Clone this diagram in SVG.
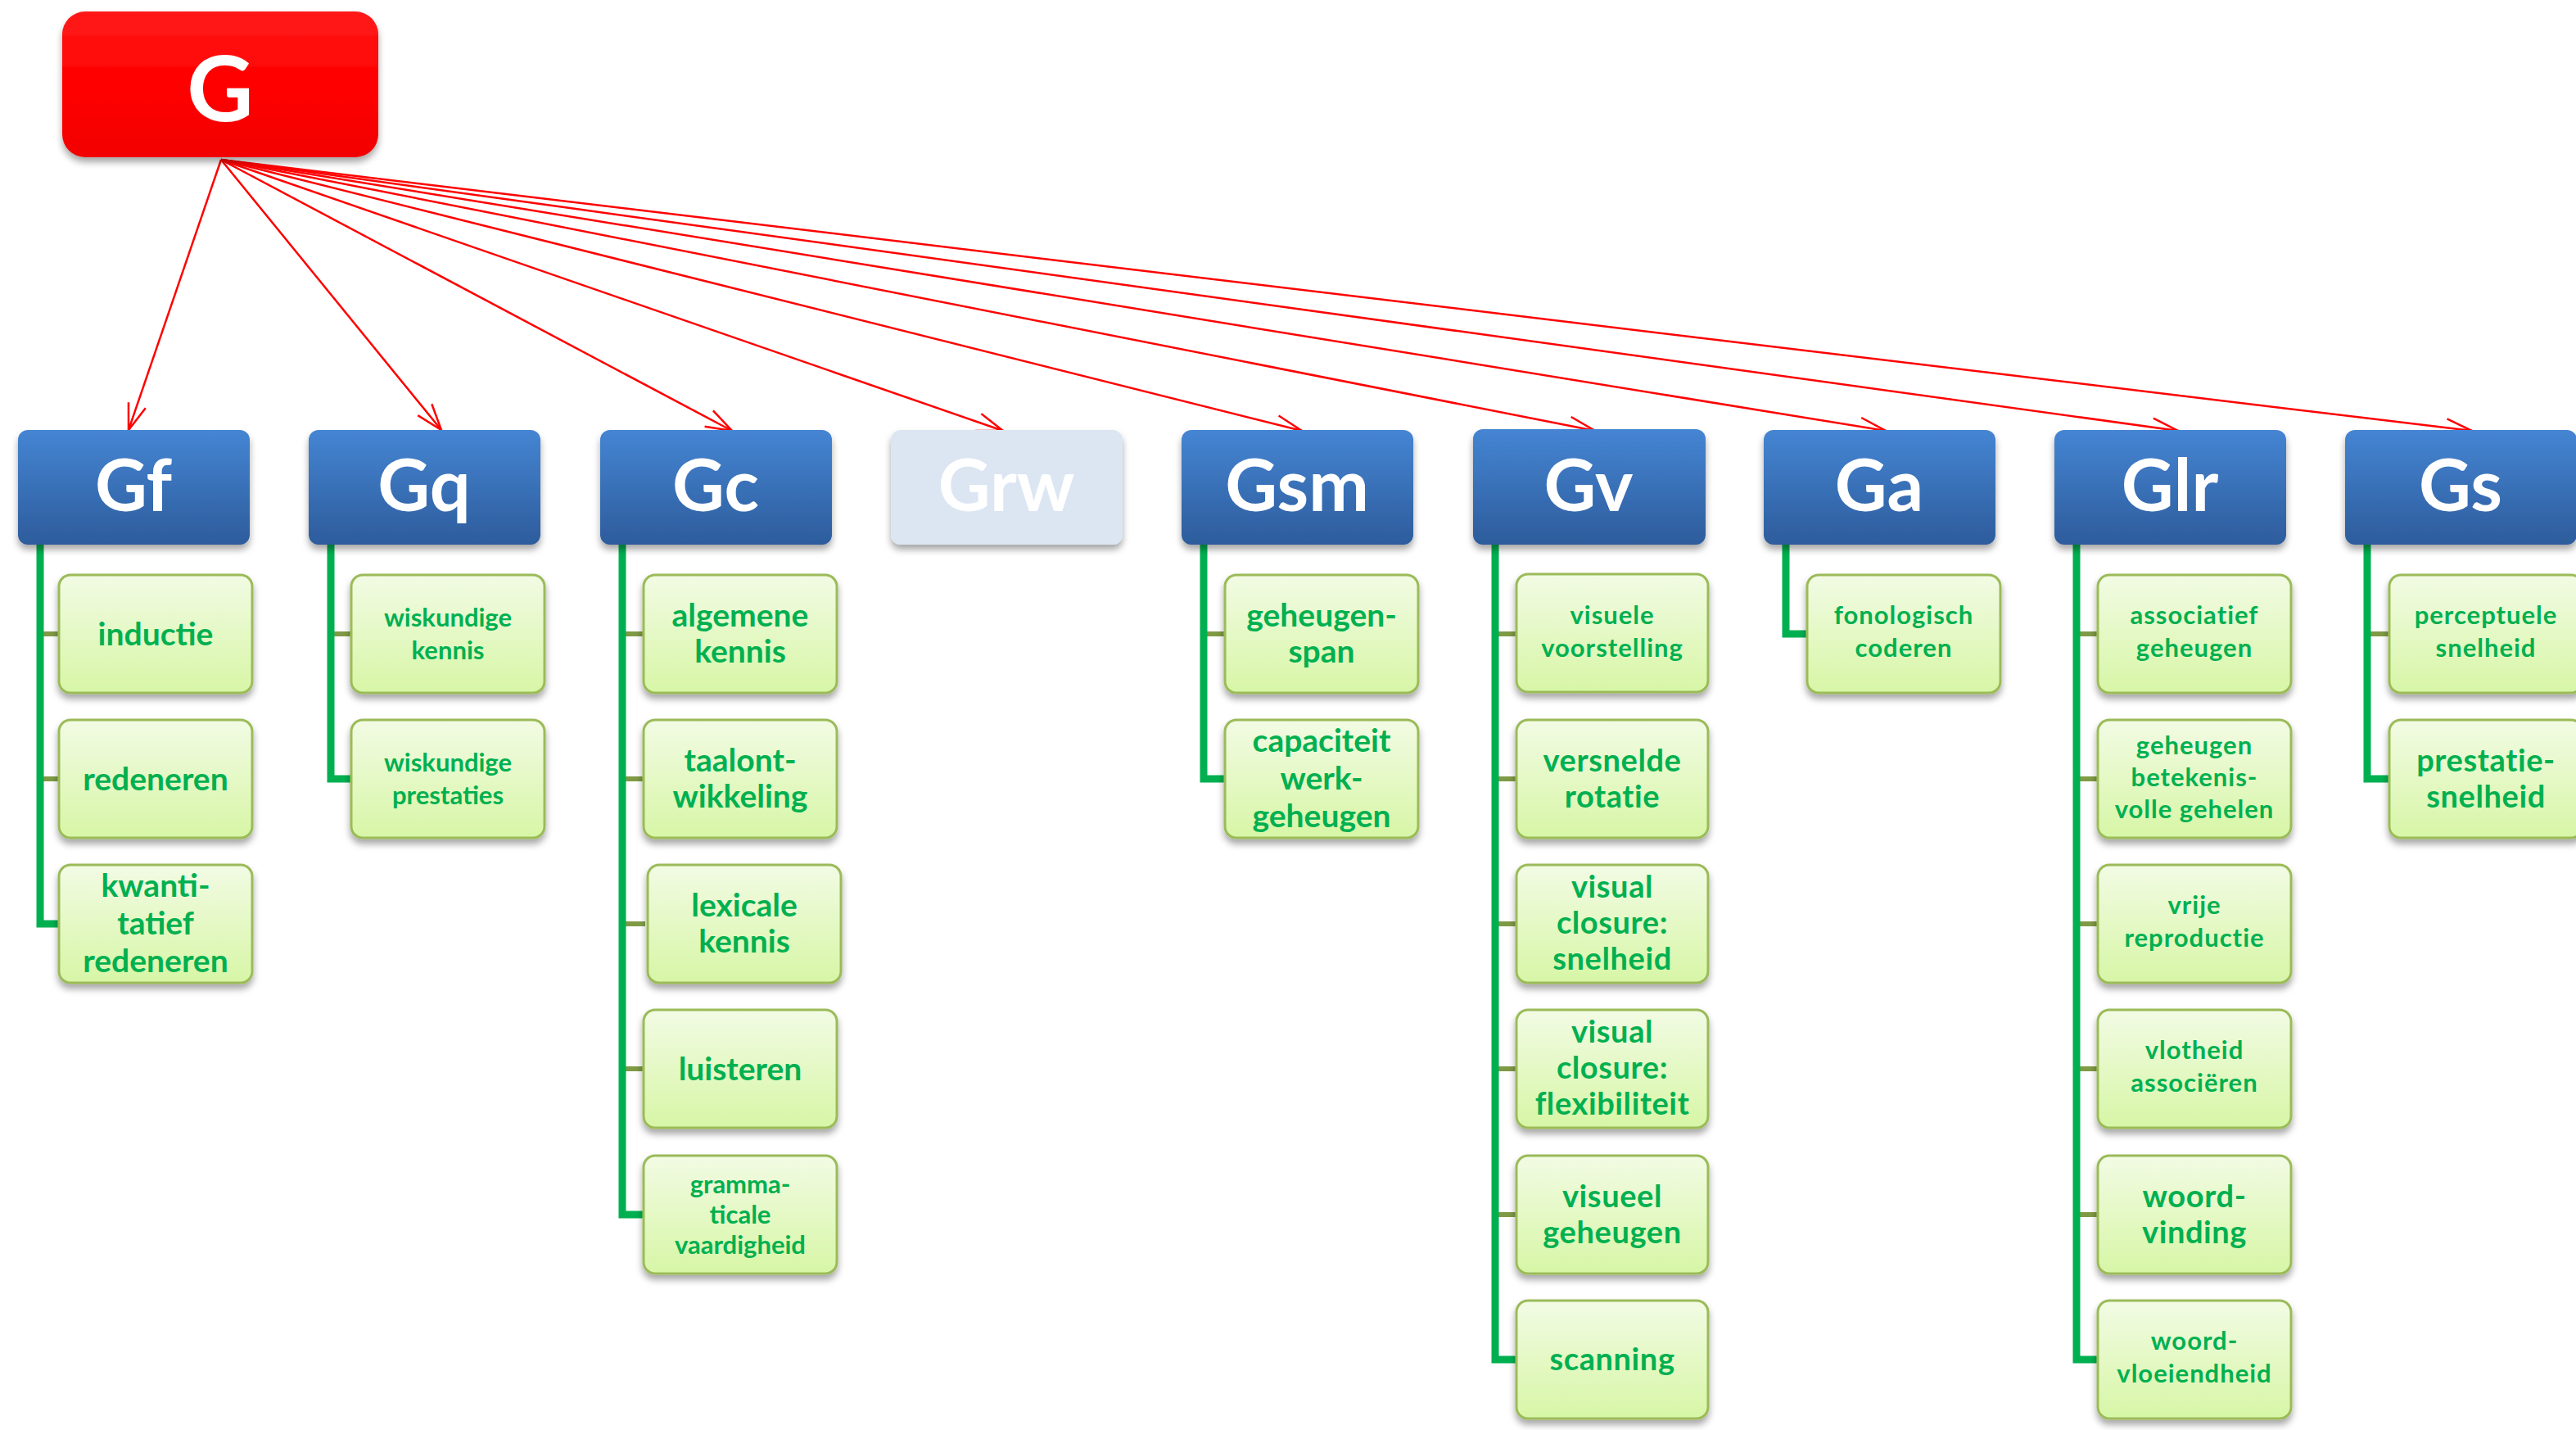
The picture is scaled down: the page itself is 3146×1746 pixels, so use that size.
<svg xmlns="http://www.w3.org/2000/svg" width="3146" height="1746" viewBox="0 0 3146 1746">
<defs>
<linearGradient id="gHead" x1="0" y1="0" x2="0" y2="1">
<stop offset="0" stop-color="#4585d3"/>
<stop offset="1" stop-color="#2d5c9c"/>
</linearGradient>
<linearGradient id="gChild" x1="0" y1="0" x2="0" y2="1">
<stop offset="0" stop-color="#f2fbe4"/>
<stop offset="1" stop-color="#d7f6a6"/>
</linearGradient>
<linearGradient id="gRed" x1="0" y1="0" x2="0" y2="1">
<stop offset="0" stop-color="#ff1a1a"/>
<stop offset="0.5" stop-color="#ff0000"/>
<stop offset="1" stop-color="#f20000"/>
</linearGradient>
<filter id="sh" x="-10%" y="-10%" width="120%" height="130%">
<feDropShadow dx="0" dy="6" stdDeviation="4" flood-color="#000" flood-opacity="0.35"/>
</filter>
<marker id="arr" viewBox="0 0 36 26" refX="34" refY="13" markerWidth="36" markerHeight="26" markerUnits="userSpaceOnUse" orient="auto">
<path d="M2,2 L34,13 L2,24" fill="none" stroke="#ff0000" stroke-width="2.5"/>
</marker>
</defs>
<style>
.head{fill:url(#gHead);filter:url(#sh)}
.pale{fill:#dce6f2;filter:url(#sh)}
.child{fill:url(#gChild);stroke:#9bbb59;stroke-width:3;filter:url(#sh)}
.ht{font-family:Lato,"Liberation Sans",sans-serif;font-weight:bold;font-size:88px;fill:#ffffff;text-anchor:middle}
.t{font-family:Lato,"Liberation Sans",sans-serif;font-weight:bold;fill:#00b050;text-anchor:middle}
.ta{font-size:39px}
.tb{font-size:31px}
.tc{font-size:31px;letter-spacing:1px}
.td{font-size:38px;letter-spacing:0.6px}
.arrow{stroke:#ff0000;stroke-width:2.5;fill:none;marker-end:url(#arr)}
.trunk{stroke:#00b050;stroke-width:9;fill:none}
.tick{stroke:#7f9a45;stroke-width:6;fill:none}
</style>
<rect width="3146" height="1746" fill="#ffffff"/>

<g id="connectors">
<g id="arrows">
<line class="arrow" x1="270" y1="195" x2="157" y2="525"/>
<line class="arrow" x1="270" y1="195" x2="539" y2="525"/>
<line class="arrow" x1="270" y1="195" x2="894" y2="526"/>
<line class="arrow" x1="270" y1="195" x2="1225" y2="526"/>
<line class="arrow" x1="270" y1="195" x2="1590" y2="526"/>
<line class="arrow" x1="270" y1="195" x2="1948" y2="526"/>
<line class="arrow" x1="270" y1="195" x2="2303" y2="526"/>
<line class="arrow" x1="270" y1="195" x2="2660" y2="526"/>
<line class="arrow" x1="270" y1="195" x2="3019" y2="526"/>
</g>
<g id="ticks">
<path class="tick" d="M49,774H74M49,951H74"/>
<path class="tick" d="M404,774H431"/>
<path class="tick" d="M760,774H788M760,951H788M760,1128H788M760,1305H788"/>
<path class="tick" d="M1470,774H1498"/>
<path class="tick" d="M1826,774H1854M1826,951H1854M1826,1128H1854M1826,1305H1854M1826,1483H1854"/>
<path class="tick" d="M2536,774H2564M2536,951H2564M2536,1128H2564M2536,1305H2564M2536,1483H2564"/>
<path class="tick" d="M2891,774H2920"/>
</g>
<g id="trunks">
<path class="trunk" d="M49,664V1128H74"/>
<path class="trunk" d="M404,664V951H431"/>
<path class="trunk" d="M760,664V1483H788"/>
<path class="trunk" d="M1470,664V951H1498"/>
<path class="trunk" d="M1826,664V1660H1854"/>
<path class="trunk" d="M2181,664V774H2209"/>
<path class="trunk" d="M2536,664V1660H2564"/>
<path class="trunk" d="M2891,664V951H2920"/>
</g>
</g>

<g id="G">
<rect x="76" y="14" width="386" height="178" rx="28" fill="url(#gRed)" filter="url(#sh)"/>
<text x="269" y="148" font-family="Lato,'Liberation Sans',sans-serif" font-weight="bold" font-size="112" fill="#ffffff" text-anchor="middle">G</text>
</g>

<g id="Gf"><rect class="head" x="22" y="525" width="283" height="140" rx="12"/><text class="ht" x="163" y="624">Gf</text></g>
<g id="Gq"><rect class="head" x="377" y="525" width="283" height="140" rx="12"/><text class="ht" x="518" y="624">Gq</text></g>
<g id="Gc"><rect class="head" x="733" y="525" width="283" height="140" rx="12"/><text class="ht" x="874" y="624">Gc</text></g>
<g id="Grw"><rect class="pale" x="1088" y="525" width="283" height="140" rx="12"/><text class="ht" x="1229" y="624">Grw</text></g>
<g id="Gsm"><rect class="head" x="1443" y="525" width="283" height="140" rx="12"/><text class="ht" x="1584" y="624">Gsm</text></g>
<g id="Gv"><rect class="head" x="1799" y="524" width="284" height="141" rx="12"/><text class="ht" x="1940" y="624">Gv</text></g>
<g id="Ga"><rect class="head" x="2154" y="525" width="283" height="140" rx="12"/><text class="ht" x="2295" y="624">Ga</text></g>
<g id="Glr"><rect class="head" x="2509" y="525" width="283" height="140" rx="12"/><text class="ht" x="2650" y="624">Glr</text></g>
<g id="Gs"><rect class="head" x="2864" y="525" width="283" height="140" rx="12"/><text class="ht" x="3005" y="624">Gs</text></g>

<!-- Gf children -->
<g id="gf1"><rect class="child" x="72" y="702" width="236" height="144" rx="14"/><text class="t ta" x="190" y="788">inductie</text></g>
<g id="gf2"><rect class="child" x="72" y="879" width="236" height="144" rx="14"/><text class="t ta" x="190" y="965">redeneren</text></g>
<g id="gf3"><rect class="child" x="72" y="1056" width="236" height="144" rx="14"/><text class="t ta"><tspan x="190" y="1095">kwanti-</tspan><tspan x="190" y="1141">tatief</tspan><tspan x="190" y="1187">redeneren</tspan></text></g>

<!-- Gq children -->
<g id="gq1"><rect class="child" x="429" y="702" width="236" height="144" rx="14"/><text class="t tb"><tspan x="547" y="765">wiskundige</tspan><tspan x="547" y="805">kennis</tspan></text></g>
<g id="gq2"><rect class="child" x="429" y="879" width="236" height="144" rx="14"/><text class="t tb"><tspan x="547" y="942">wiskundige</tspan><tspan x="547" y="982">prestaties</tspan></text></g>

<!-- Gc children -->
<g id="gc1"><rect class="child" x="786" y="702" width="236" height="144" rx="14"/><text class="t ta"><tspan x="904" y="765">algemene</tspan><tspan x="904" y="809">kennis</tspan></text></g>
<g id="gc2"><rect class="child" x="786" y="879" width="236" height="144" rx="14"/><text class="t ta"><tspan x="904" y="942">taalont-</tspan><tspan x="904" y="986">wikkeling</tspan></text></g>
<g id="gc3"><rect class="child" x="791" y="1056" width="236" height="144" rx="14"/><text class="t ta"><tspan x="909" y="1119">lexicale</tspan><tspan x="909" y="1163">kennis</tspan></text></g>
<g id="gc4"><rect class="child" x="786" y="1233" width="236" height="144" rx="14"/><text class="t ta" x="904" y="1319">luisteren</text></g>
<g id="gc5"><rect class="child" x="786" y="1411" width="236" height="144" rx="14"/><text class="t tb"><tspan x="904" y="1457">gramma-</tspan><tspan x="904" y="1494">ticale</tspan><tspan x="904" y="1531">vaardigheid</tspan></text></g>

<!-- Gsm children -->
<g id="gsm1"><rect class="child" x="1496" y="702" width="236" height="144" rx="14"/><text class="t ta"><tspan x="1614" y="765">geheugen-</tspan><tspan x="1614" y="809">span</tspan></text></g>
<g id="gsm2"><rect class="child" x="1496" y="879" width="236" height="144" rx="14"/><text class="t ta"><tspan x="1614" y="918">capaciteit</tspan><tspan x="1614" y="964">werk-</tspan><tspan x="1614" y="1010">geheugen</tspan></text></g>

<!-- Gv children -->
<g id="gv1"><rect class="child" x="1852" y="701" width="234" height="144" rx="14"/><text class="t tc"><tspan x="1969" y="762">visuele</tspan><tspan x="1969" y="802">voorstelling</tspan></text></g>
<g id="gv2"><rect class="child" x="1852" y="879" width="234" height="144" rx="14"/><text class="t td"><tspan x="1969" y="942">versnelde</tspan><tspan x="1969" y="986">rotatie</tspan></text></g>
<g id="gv3"><rect class="child" x="1852" y="1056" width="234" height="144" rx="14"/><text class="t td"><tspan x="1969" y="1096">visual</tspan><tspan x="1969" y="1140">closure:</tspan><tspan x="1969" y="1184">snelheid</tspan></text></g>
<g id="gv4"><rect class="child" x="1852" y="1233" width="234" height="144" rx="14"/><text class="t td"><tspan x="1969" y="1273">visual</tspan><tspan x="1969" y="1317">closure:</tspan><tspan x="1969" y="1361">flexibiliteit</tspan></text></g>
<g id="gv5"><rect class="child" x="1852" y="1411" width="234" height="144" rx="14"/><text class="t td"><tspan x="1969" y="1474">visueel</tspan><tspan x="1969" y="1518">geheugen</tspan></text></g>
<g id="gv6"><rect class="child" x="1852" y="1588" width="234" height="144" rx="14"/><text class="t td" x="1969" y="1673">scanning</text></g>

<!-- Ga children -->
<g id="ga1"><rect class="child" x="2207" y="702" width="236" height="144" rx="14"/><text class="t tc"><tspan x="2325" y="762">fonologisch</tspan><tspan x="2325" y="802">coderen</tspan></text></g>

<!-- Glr children -->
<g id="glr1"><rect class="child" x="2562" y="702" width="236" height="144" rx="14"/><text class="t tc"><tspan x="2680" y="762">associatief</tspan><tspan x="2680" y="802">geheugen</tspan></text></g>
<g id="glr2"><rect class="child" x="2562" y="879" width="236" height="144" rx="14"/><text class="t tc"><tspan x="2680" y="921">geheugen</tspan><tspan x="2680" y="960">betekenis-</tspan><tspan x="2680" y="999">volle gehelen</tspan></text></g>
<g id="glr3"><rect class="child" x="2562" y="1056" width="236" height="144" rx="14"/><text class="t tc"><tspan x="2680" y="1116">vrije</tspan><tspan x="2680" y="1156">reproductie</tspan></text></g>
<g id="glr4"><rect class="child" x="2562" y="1233" width="236" height="144" rx="14"/><text class="t tc"><tspan x="2680" y="1293">vlotheid</tspan><tspan x="2680" y="1333">associëren</tspan></text></g>
<g id="glr5"><rect class="child" x="2562" y="1411" width="236" height="144" rx="14"/><text class="t td"><tspan x="2680" y="1474">woord-</tspan><tspan x="2680" y="1518">vinding</tspan></text></g>
<g id="glr6"><rect class="child" x="2562" y="1588" width="236" height="144" rx="14"/><text class="t tc"><tspan x="2680" y="1648">woord-</tspan><tspan x="2680" y="1688">vloeiendheid</tspan></text></g>

<!-- Gs children -->
<g id="gs1"><rect class="child" x="2918" y="702" width="236" height="144" rx="14"/><text class="t tc"><tspan x="3036" y="762">perceptuele</tspan><tspan x="3036" y="802">snelheid</tspan></text></g>
<g id="gs2"><rect class="child" x="2918" y="879" width="236" height="144" rx="14"/><text class="t td"><tspan x="3036" y="942">prestatie-</tspan><tspan x="3036" y="986">snelheid</tspan></text></g>
</svg>
